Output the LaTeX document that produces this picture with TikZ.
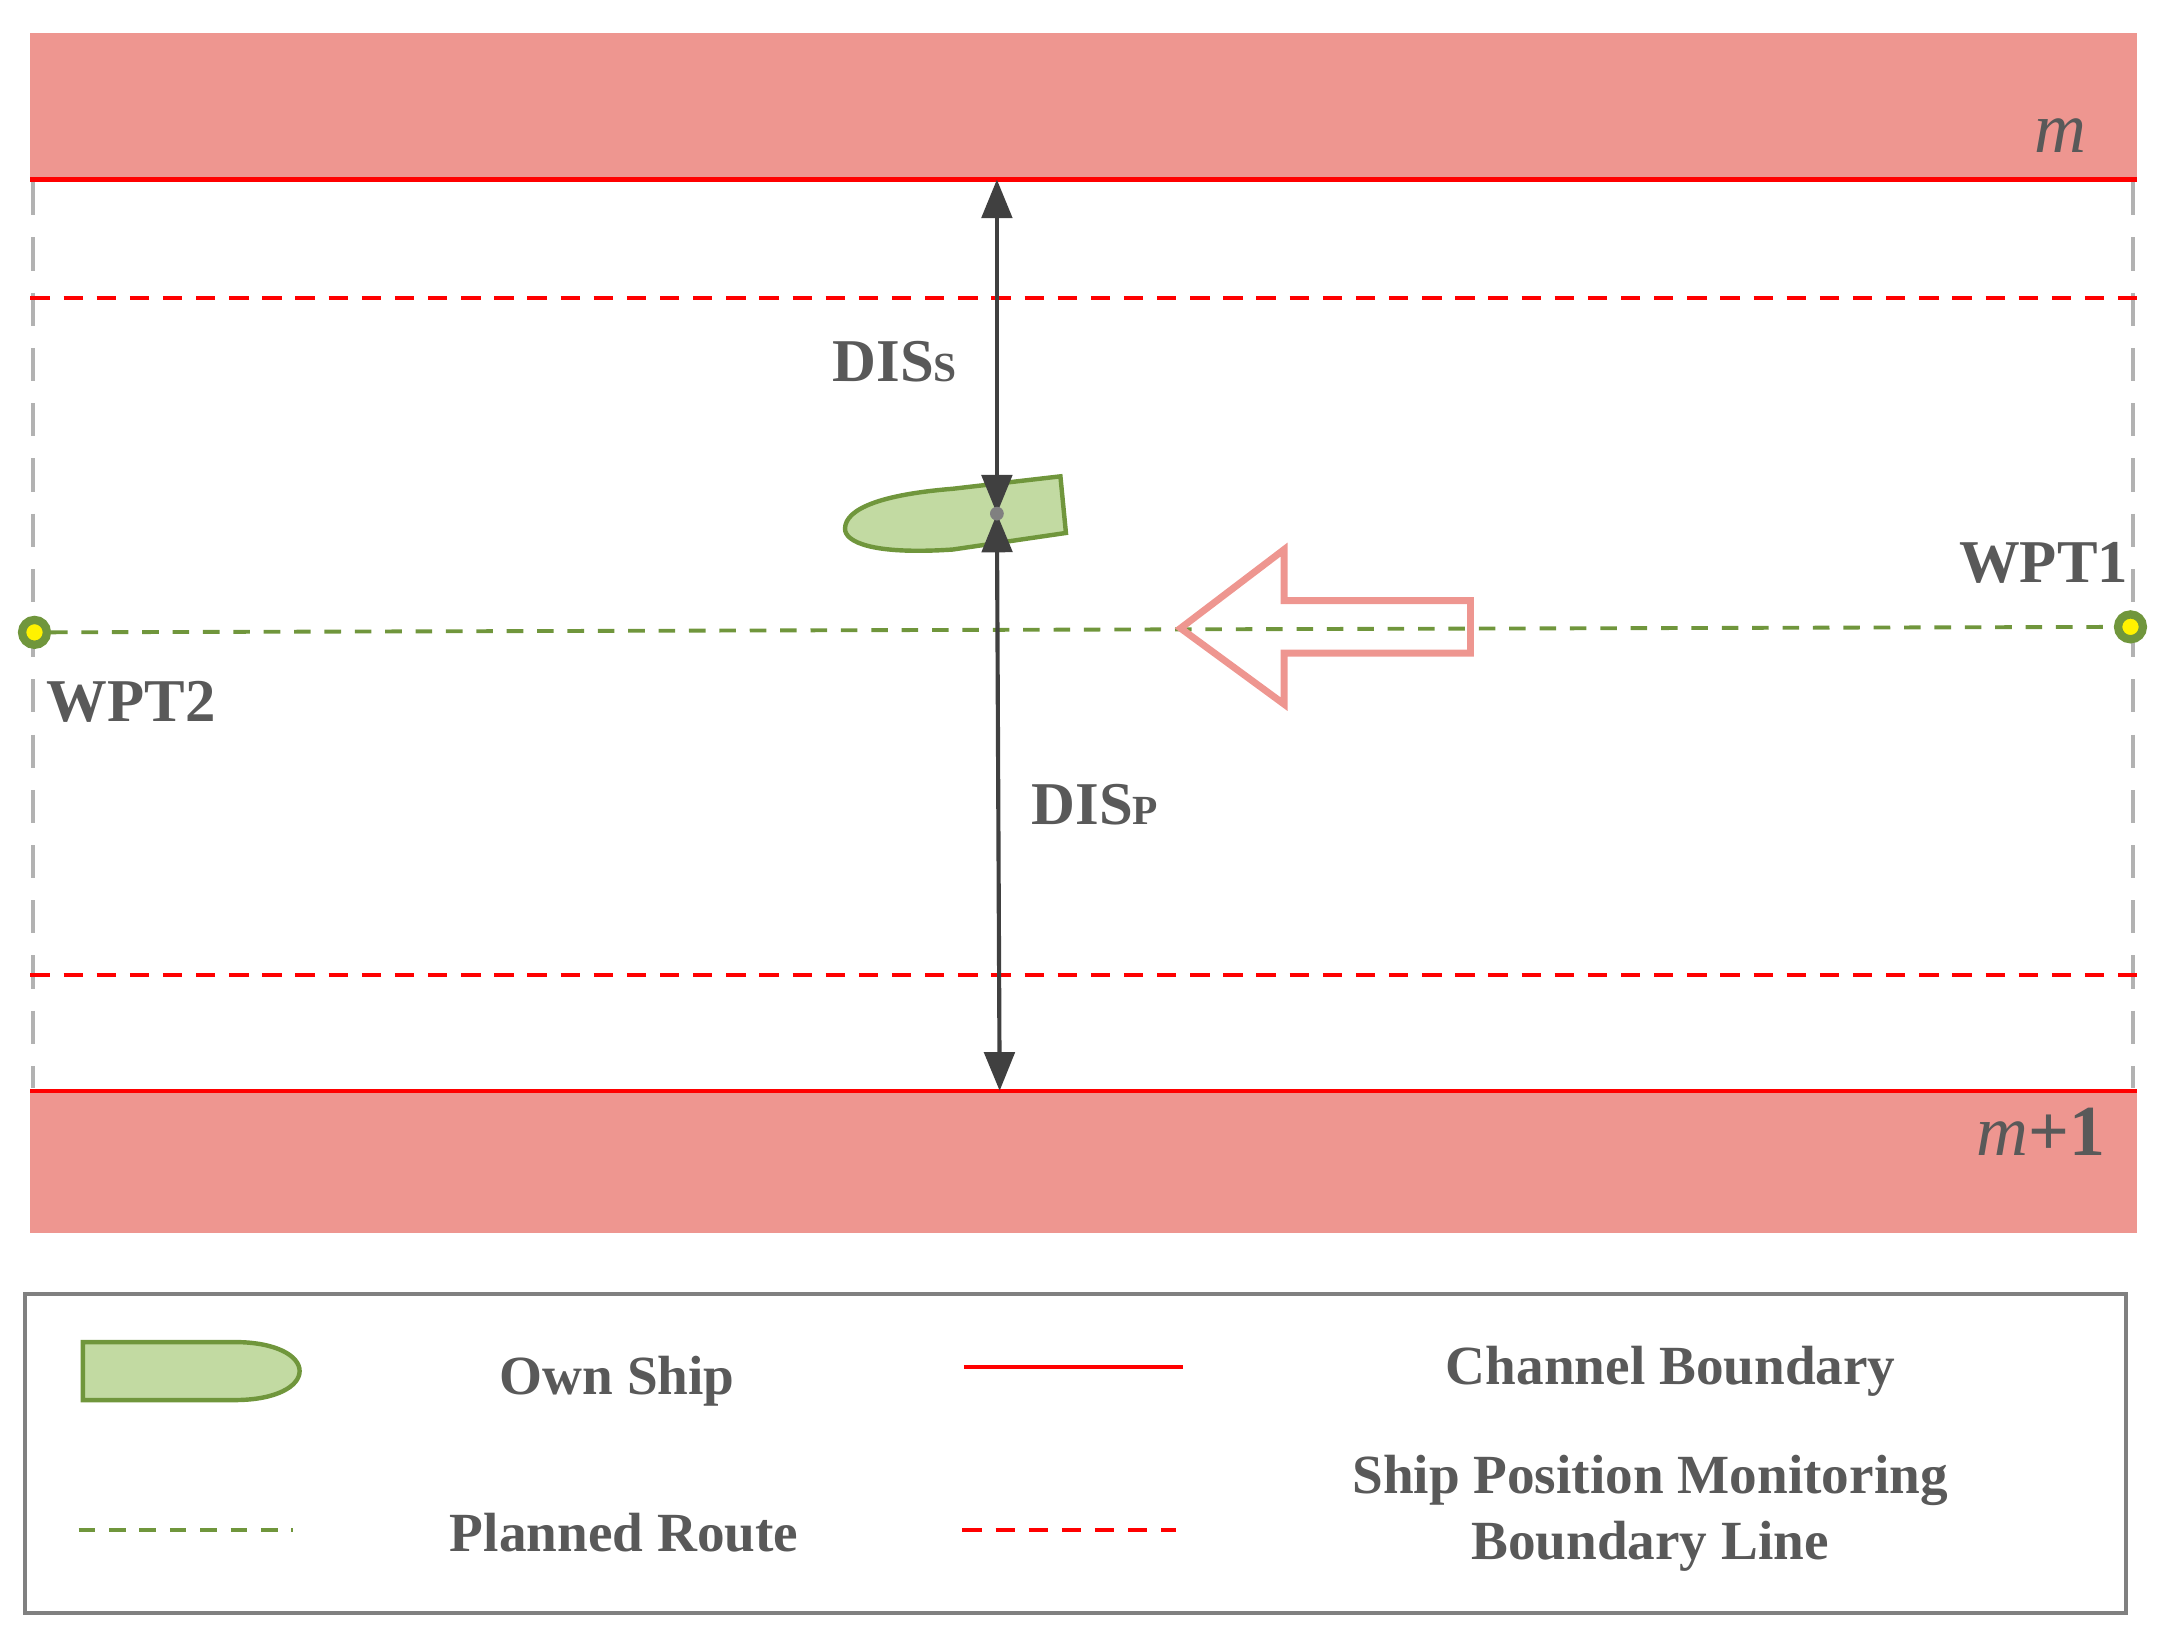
\documentclass[tikz,border=0pt]{standalone}
\usepackage{fontspec}
\setmainfont{Liberation Serif}
\usetikzlibrary{arrows.meta}
\definecolor{band}{HTML}{EE9690}
\definecolor{chan}{HTML}{FF0000}
\definecolor{route}{HTML}{70963C}
\definecolor{shipfill}{HTML}{C2DAA2}
\definecolor{txt}{HTML}{595959}
\definecolor{darr}{HTML}{404040}
\tikzset{
 px/.style={x=0.5pt,y=-0.5pt},
 chanline/.style={chan,line width=1.6pt},
 monline/.style={chan,line width=1.4pt,dash pattern=on 7pt off 5pt},
 routeline/.style={route,line width=1.4pt,dash pattern=on 6pt off 5pt},
 vline/.style={gray!60,line width=1.3pt,dash pattern=on 12pt off 8pt},
 lbl/.style={txt,font=\fontsize{22}{26}\selectfont\bfseries},
 leg/.style={txt,font=\fontsize{20}{24}\selectfont\bfseries,align=center},
 dim/.style={darr,line width=1.5pt,{Triangle[length=14pt,width=11pt]}-{Triangle[length=14pt,width=11pt]}},
 wpt/.style={circle,draw=route,fill=yellow,line width=3pt,minimum size=9pt,inner sep=0pt},
 ship/.style={draw=route,fill=shipfill,line width=1.6pt},
}
\begin{document}
\begin{tikzpicture}[px]
\useasboundingbox (0,0) rectangle (1568,1186);
% bands
\fill[band] (22,24) rectangle (1548,130);
\fill[band] (22,790) rectangle (1548,893);
\draw[chanline] (22,130) -- (1548,130);
\draw[chanline] (22,790) -- (1548,790);
\draw[vline] (24,132) -- (24,788);
\draw[vline] (1545,132) -- (1545,788);
\draw[monline] (22,216) -- (1555,216);
\draw[monline] (22,706) -- (1548,706);
\node[txt,font=\fontsize{26}{30}\selectfont\itshape] (m) at (1492,98) {m};
\node[txt,font=\fontsize{26}{30}\selectfont] (m1) at (1478,820) {\textit{m}\textbf{+1}};
% route
\node[wpt] (w2) at (25,458) {};
\node[wpt] (w1) at (1543,454) {};
\draw[routeline] (w2) -- (w1);
\node[lbl] (l1) at (1480,408) {WPT1};
\node[lbl] (l2) at (95,508) {WPT2};
% big arrow
\draw[band,line width=2.5pt,line join=miter] (855,455) -- (930,398) -- (930,435) -- (1065,435) -- (1065,473) -- (930,473) -- (930,510) -- cycle;
% ship
\draw[ship] (768,345) -- (772,386) -- (690,398) .. controls (630,402) and (612,392) .. (612,383) .. controls (612,368) and (640,358) .. (690,354) -- cycle;
\coordinate (c) at (722,372);
\coordinate (top) at (722,130);
\coordinate (bot) at (724,790);
\draw[dim] (c) -- (top);
\draw[dim] (c) -- (bot);
\fill[gray] (c) circle (5);
\node[lbl] (ds) at (648,262) {DIS{\fontsize{15}{18}\selectfont S}};
\node[lbl] (dp) at (793,583) {DIS{\fontsize{15}{18}\selectfont P}};
% legend
\draw[gray,line width=1.5pt] (18,937) rectangle (1540,1168);
\draw[ship] (60,972) -- (170,972) .. controls (200,972) and (217,982) .. (217,993) .. controls (217,1004) and (200,1014) .. (170,1014) -- (60,1014) -- cycle;
\node[leg] (t1) at (447,1000) {Own Ship};
\draw[chanline] (698,990) -- (857,990);
\node[leg] (t2) at (1210,993) {Channel Boundary};
\draw[routeline] (57,1108) -- (212,1108);
\node[leg] (t3) at (452,1110) {Planned Route};
\draw[monline] (697,1108) -- (852,1108);
\node[leg] (t4) at (1195,1096) {Ship Position Monitoring\\Boundary Line};
\end{tikzpicture}
\end{document}
